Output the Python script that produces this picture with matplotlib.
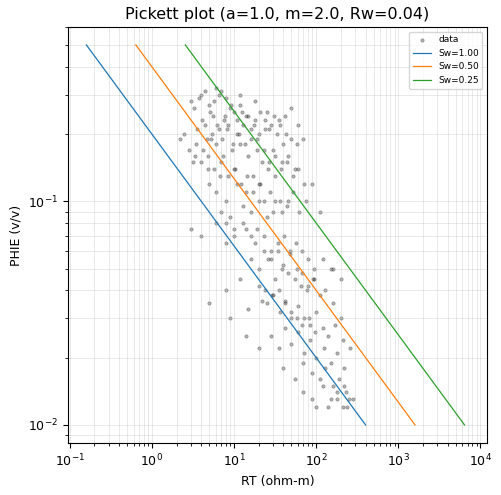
import numpy as np
import matplotlib
matplotlib.use("Agg")
import matplotlib.pyplot as plt

plt.rcParams["font.size"] = 9

a, m, Rw = 1.0, 2.0, 0.04
sw_values = [1.00, 0.50, 0.25]
phi_range = [0.01, 0.5]

rt_data = [
 3,4,5,6,7,8,9,10,12,14,4.5,5.5,6.5,7.5,8.5,11,13,16,18,20,
 3.5,4.2,5.2,6.1,7.3,9.5,12,15,19,24,28,33,40,2.5,3.2,4.8,6.8,10,22,30,
 5,6,8,11,14,17,21,26,32,38,45,55,25,35,42,50,60,70,18,12,
 7,9,13,16,20,25,30,36,44,52,62,75,90,110,3,4,6,8,
 10,14,18,23,28,34,41,48,57,68,80,95,120,150,5,8,12,16,
 20,26,32,38,46,55,65,78,92,110,130,160,200,9,15,22,
 25,30,36,42,50,60,72,85,100,120,140,170,210,260,14,20,
 28,35,42,50,60,72,85,100,125,150,180,220,40,55,70,90,
 110,130,160,190,230,70,90,120,150,180,210,250,100,140,180,220,
 240,280,160,200,
 3.3,3.8,4.4,5.1,5.8,6.6,7.8,9.2,10.8,12.5,15,17.5,21,24,27,31,36,43,50,58,
 3.6,4.1,4.7,5.4,6.3,7.1,8.2,9.8,11.5,13.5,16,19,23,27,32,37,44,52,61,72,
 2.2,2.8,3.4,4.0,4.9,5.7,6.9,8.4,10.2,12.2,14.5,17,20,23.5,27.5,32,38,46,
 8,10,13,16,19,23,28,34,40,48,58,68,80,95,
 20,24,29,35,42,50,58,68,82,98,
]
phi_data = [
 0.28,0.30,0.27,0.32,0.31,0.29,0.26,0.25,0.27,0.24,0.22,0.24,0.21,0.23,0.22,0.20,0.22,0.21,0.23,0.20,
 0.18,0.17,0.19,0.18,0.16,0.17,0.18,0.16,0.19,0.21,0.22,0.20,0.18,0.20,0.15,0.14,0.13,0.14,0.15,0.17,
 0.12,0.11,0.10,0.12,0.11,0.13,0.12,0.14,0.13,0.15,0.16,0.14,0.25,0.23,0.24,0.26,0.22,0.19,0.28,0.30,
 0.09,0.085,0.095,0.09,0.10,0.085,0.09,0.10,0.095,0.11,0.09,0.10,0.12,0.09,0.075,0.07,0.08,0.065,
 0.07,0.075,0.065,0.07,0.06,0.065,0.07,0.06,0.065,0.06,0.055,0.05,0.055,0.05,0.035,0.04,0.045,0.055,
 0.05,0.055,0.045,0.05,0.048,0.045,0.042,0.04,0.045,0.038,0.04,0.035,0.03,0.03,0.033,0.036,
 0.035,0.038,0.032,0.036,0.03,0.034,0.03,0.028,0.032,0.027,0.025,0.028,0.024,0.022,0.025,0.022,
 0.025,0.022,0.027,0.023,0.026,0.021,0.024,0.02,0.022,0.019,0.021,0.018,0.018,0.016,0.019,0.017,
 0.016,0.018,0.015,0.016,0.014,0.014,0.013,0.015,0.013,0.014,0.012,0.013,0.012,0.012,0.013,0.015,
 0.012,0.013,0.050,0.045,
 0.26,0.29,0.31,0.25,0.28,0.30,0.24,0.27,0.23,0.25,0.24,0.22,0.25,0.23,0.21,0.24,0.22,0.20,0.19,0.18,
 0.21,0.23,0.19,0.20,0.22,0.19,0.21,0.18,0.20,0.18,0.19,0.17,0.17,0.15,0.16,0.14,0.15,0.13,0.14,0.12,
 0.19,0.17,0.16,0.15,0.16,0.14,0.15,0.13,0.14,0.12,0.13,0.11,0.12,0.10,0.11,0.10,0.09,0.10,
 0.08,0.075,0.08,0.07,0.075,0.06,0.055,0.06,0.052,0.058,0.05,0.048,0.042,0.045,
 0.042,0.04,0.038,0.04,0.035,0.032,0.03,0.028,0.03,0.026,
]

fig, ax = plt.subplots(figsize=(5.02, 4.95), dpi=100)
ax.scatter(rt_data, phi_data, s=6, c="black", alpha=0.3, linewidths=0.5, label="data")
phi = np.array(phi_range)
for sw in sw_values:
    rt = a * Rw / (phi ** m * sw ** 2)
    ax.plot(rt, phi, lw=0.9, label=f"Sw={sw:.2f}")
ax.set_xscale("log"); ax.set_yscale("log")
ax.set_xlim(0.095, 1.2e4)
ax.set_ylim(0.0083, 0.6)
ax.grid(True, which="both", lw=0.5, alpha=0.4)
ax.set_xlabel("RT (ohm-m)")
ax.set_ylabel("PHIE (v/v)")
ax.set_title("Pickett plot (a=1.0, m=2.0, Rw=0.04)", fontsize=11.5)
ax.legend(loc="upper right", fontsize=6.5)
fig.subplots_adjust(left=0.135, right=0.97, top=0.945, bottom=0.105)
fig.savefig("out.png")
